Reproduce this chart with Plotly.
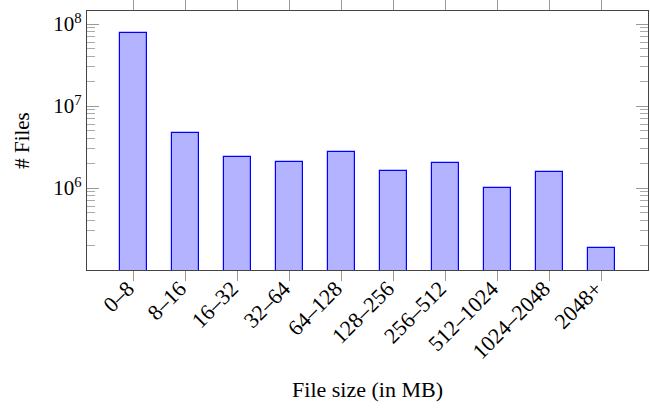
import plotly.graph_objects as go

categories = ["0–8", "8–16", "16–32", "32–64", "64–128", "128–256",
              "256–512", "512–1024", "1024–2048", "2048+"]
files = [7.8e7, 4.7e6, 2.39e6, 2.09e6, 2.75e6, 1.61e6, 2.0e6, 1.0e6, 1.58e6, 1.84e5]
ytick_vals = [1e6, 1e7, 1e8]
ytick_text = ["10<sup>6</sup>", "10<sup>7</sup>", "10<sup>8</sup>"]

font_family = "Liberation Serif, DejaVu Serif, serif"

minor_vals = [m * 10 ** e for e in range(5, 9) for m in range(2, 10)]

fig = go.Figure()
fig.add_trace(go.Bar(
    x=list(range(len(categories))), y=files,
    width=0.52,
    marker=dict(color="#B3B3FF", line=dict(color="#0000FF", width=1.2)),
))

fig.update_layout(
    width=650, height=408,
    margin=dict(l=87, r=2, t=11, b=138),
    plot_bgcolor="white", paper_bgcolor="white",
    showlegend=False,
    font=dict(family=font_family, size=18, color="black"),
    bargap=0,
)
fig.update_xaxes(
    range=[-0.9, 9.89], automargin=False,
    tickmode="array", tickvals=list(range(len(categories))), ticktext=categories,
    tickangle=-45, tickfont=dict(size=22),
    ticklabelstandoff=-14, ticklabelshift=-6,
    ticks="outside", ticklen=10, tickcolor="#999999", tickwidth=1,
    showline=True, linecolor="#444444", linewidth=1.2, mirror="ticks",
    showgrid=False, zeroline=False,
    title=dict(text="File size (in MB)", font=dict(size=22), standoff=18),
)
fig.update_yaxes(
    type="log", range=[5.0, 8.159], automargin=False,
    tickmode="array", tickvals=ytick_vals, ticktext=ytick_text,
    tickfont=dict(size=21),
    ticks="inside", ticklen=12, tickcolor="#999999", tickwidth=1,
    minor=dict(tickmode="array", tickvals=minor_vals, ticks="inside", ticklen=8,
               tickcolor="#aaaaaa", tickwidth=1, showgrid=False),
    showline=True, linecolor="#444444", linewidth=1.2, mirror="ticks",
    showgrid=False, zeroline=False,
    title=dict(text="# Files", font=dict(size=21), standoff=18),
)

fig.write_html("out.html", config={"displayModeBar": False},
               post_script="document.body.style.margin='0';document.body.style.overflow='hidden';")
